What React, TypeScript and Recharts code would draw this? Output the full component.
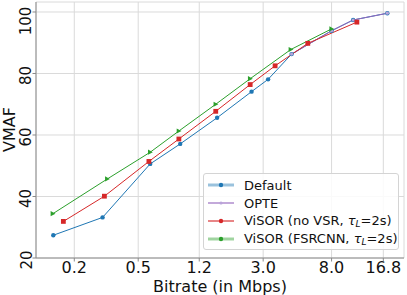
import React from 'react';
import { LineChart, Line, XAxis, YAxis, CartesianGrid } from 'recharts';

// bitrate (Mbps) and VMAF per series
const defaultRate = [0.148, 0.3, 0.594, 0.913, 1.55, 2.54, 3.22, 4.51, 8.0, 10.9, 17.8];
const defaultVmaf = [27.4, 33.2, 50.6, 57.1, 65.6, 74.1, 78.1, 86.3, 93.9, 97.4, 99.6];

const opteRate = [4.51, 8.0, 10.9, 17.8];
const opteVmaf = [86.3, 93.9, 97.4, 99.6];

const noVsrRate = [0.171, 0.308, 0.583, 0.896, 1.52, 2.49, 3.56, 5.69, 11.5];
const noVsrVmaf = [31.9, 40.1, 51.4, 58.7, 67.7, 76.4, 82.5, 89.8, 96.7];

const fsrcnnRate = [0.147, 0.321, 0.594, 0.896, 1.52, 2.49, 4.46, 8.0];
const fsrcnnVmaf = [34.4, 45.7, 54.4, 61.3, 70.0, 78.3, 87.8, 94.5];

const xTicks = [0.2, 0.5, 1.2, 3.0, 8.0, 16.8];
const yTicks = [20, 40, 60, 80, 100];

const FONT = '"DejaVu Sans", sans-serif';
const SPINE = '#8a8a8a';
const GRID = '#dadada';

const toPoints = (xs: number[], ys: number[]) => xs.map((x, i) => ({ x, y: ys[i] }));

type Kind = 'circle' | 'plus' | 'square' | 'triangle';

const series = [
  { key: 'default', color: '#1f77b4', kind: 'circle' as Kind, data: toPoints(defaultRate, defaultVmaf), lw: 3, alpha: 0.45 },
  { key: 'opte', color: '#9467bd', kind: 'plus' as Kind, data: toPoints(opteRate, opteVmaf), lw: 1.5, alpha: 0.75 },
  { key: 'novsr', color: '#d62728', kind: 'square' as Kind, data: toPoints(noVsrRate, noVsrVmaf), lw: 1.5, alpha: 0.75 },
  { key: 'fsrcnn', color: '#2ca02c', kind: 'triangle' as Kind, data: toPoints(fsrcnnRate, fsrcnnVmaf), lw: 3, alpha: 0.45 },
];

const tau = (
  <>
    <i>τ</i>
    <sub style={{ fontSize: 9, fontStyle: 'italic', verticalAlign: -2 }}>L</sub>
  </>
);

const labels: Record<string, React.ReactNode> = {
  default: 'Default',
  opte: 'OPTE',
  novsr: <>ViSOR (no VSR, {tau}=2s)</>,
  fsrcnn: <>ViSOR (FSRCNN, {tau}=2s)</>,
};

function marker(kind: Kind, color: string, cx: number, cy: number, key?: string) {
  if (kind === 'circle') return <circle key={key} cx={cx} cy={cy} r={2.2} fill={color} />;
  if (kind === 'square') return <rect key={key} x={cx - 2.4} y={cy - 2.4} width={4.8} height={4.8} fill={color} />;
  if (kind === 'triangle')
    return <path key={key} d={`M${cx - 2.2},${cy - 2.6} L${cx + 2.6},${cy} L${cx - 2.2},${cy + 2.6} Z`} fill={color} />;
  return <circle key={key} cx={cx} cy={cy} r={1.6} fill="#b9a3d9" />;
}

const YTick = (props: any) => {
  const { y, payload } = props;
  const label = String(payload.value);
  const cy = y + (label.length === 3 ? 9 : 2);
  return (
    <text x={31.5} y={cy} transform={`rotate(-90, 31.5, ${cy})`} textAnchor="middle" fontSize={15} fontFamily={FONT} fill="#111">
      {label}
    </text>
  );
};

const XTick = (props: any) => {
  const { x, payload } = props;
  return (
    <text x={x} y={273} textAnchor="middle" fontSize={16} fontFamily={FONT} fill="#111">
      {Number(payload.value).toFixed(1)}
    </text>
  );
};

export default function App() {
  return (
    <div style={{ position: 'absolute', left: 0, top: 0, width: 407, height: 295, background: '#fff', fontFamily: FONT }}>
      <LineChart width={407} height={295} margin={{ top: 2, right: 3, left: 0, bottom: 0 }}>
        <CartesianGrid stroke={GRID} strokeWidth={1} />
        <XAxis
          dataKey="x"
          type="number"
          scale="log"
          domain={[0.1155, 22.6]}
          allowDataOverflow
          ticks={xTicks}
          tick={<XTick />}
          tickSize={3.5}
          tickLine={{ stroke: SPINE }}
          axisLine={{ stroke: SPINE }}
          height={37}
          interval={0}
        />
        <XAxis xAxisId="top" orientation="top" type="number" height={0} tick={false} tickLine={false} axisLine={{ stroke: SPINE }} />
        <YAxis
          dataKey="y"
          type="number"
          domain={[20, 103.25]}
          allowDataOverflow
          ticks={yTicks}
          tick={<YTick />}
          tickSize={3.5}
          tickLine={{ stroke: SPINE }}
          axisLine={{ stroke: SPINE }}
          width={36}
          interval={0}
        />
        <YAxis yAxisId="right" orientation="right" type="number" width={0} tick={false} tickLine={false} axisLine={{ stroke: SPINE }} />
        {series.map((s) => (
          <Line
            key={s.key}
            data={s.data}
            dataKey="y"
            type="linear"
            stroke={s.color}
            strokeWidth={1}
            isAnimationActive={false}
            dot={(p: any) => marker(s.kind, s.color, p.cx, p.cy, `${s.key}-${p.index}`)}
            activeDot={false}
          />
        ))}
      </LineChart>

      <div style={{ position: 'absolute', left: 0, top: 106, width: 19, height: 46, display: 'flex', alignItems: 'center', justifyContent: 'center' }}>
        <div style={{ transform: 'rotate(-90deg)', fontSize: 16, whiteSpace: 'nowrap', color: '#111' }}>VMAF</div>
      </div>
      <div style={{ position: 'absolute', left: 36, width: 368, top: 277, textAlign: 'center', fontSize: 16, color: '#111', lineHeight: 'normal' }}>
        Bitrate (in Mbps)
      </div>

      <div
        style={{
          position: 'absolute',
          left: 203,
          top: 173,
          width: 196,
          height: 77,
          background: 'rgba(255,255,255,0.85)',
          border: '1px solid #d4d4d4',
          borderRadius: 3,
          boxSizing: 'border-box',
          paddingTop: 2,
        }}
      >
        {series.map((s) => (
          <div key={s.key} style={{ height: 18, display: 'flex', alignItems: 'center', fontSize: 13, color: '#111', whiteSpace: 'nowrap' }}>
            <svg width={40} height={18} style={{ flex: 'none' }}>
              <line x1={4} x2={30} y1={9} y2={9} stroke={s.color} strokeOpacity={s.alpha} strokeWidth={s.lw} />
              {marker(s.kind === 'plus' ? 'plus' : 'circle', s.color, 17, 9)}
            </svg>
            <span>{labels[s.key]}</span>
          </div>
        ))}
      </div>
    </div>
  );
}
